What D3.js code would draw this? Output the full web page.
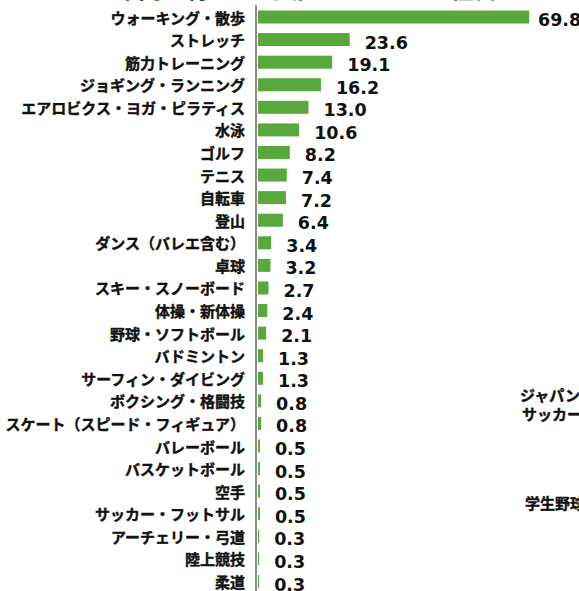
<!DOCTYPE html>
<meta charset="utf-8">
<script src="https://d3js.org/d3.v7.min.js"></script>
<style>
  body { margin: 0; background: white; }
  svg { display: block; }
  .cat { font-family: "Noto Sans CJK JP", sans-serif; font-weight: bold; font-size: 15px; fill: #111; stroke: #111; stroke-width: 0.4px; }
  .val { font-family: "DejaVu Sans", Verdana, sans-serif; font-weight: bold; font-size: 17.5px; fill: #111; }
</style>
<body>
<div id="chart"></div>
<script>
// 種目と実施率（%）
var sports = ["ウォーキング・散歩", "ストレッチ", "筋力トレーニング", "ジョギング・ランニング",
  "エアロビクス・ヨガ・ピラティス", "水泳", "ゴルフ", "テニス", "自転車", "登山",
  "ダンス（バレエ含む）", "卓球", "スキー・スノーボード", "体操・新体操", "野球・ソフトボール",
  "バドミントン", "サーフィン・ダイビング", "ボクシング・格闘技", "スケート（スピード・フィギュア）",
  "バレーボール", "バスケットボール", "空手", "サッカー・フットサル", "アーチェリー・弓道",
  "陸上競技", "柔道"];
var rates = [69.8, 23.6, 19.1, 16.2, 13.0, 10.6, 8.2, 7.4, 7.2, 6.4,
  3.4, 3.2, 2.7, 2.4, 2.1, 1.3, 1.3, 0.8, 0.8,
  0.5, 0.5, 0.5, 0.5, 0.3, 0.3, 0.3];
// 右隣のグラフの見切れたラベル
var sideLabels = ["ジャパン", "サッカーリーグ", "学生野球"];

var W = 579, H = 591;
var data = sports.map(function(d, i) { return {name: d, value: rates[i]}; });

var svg = d3.select("#chart").append("svg")
    .attr("width", W)
    .attr("height", H);

var x = d3.scaleLinear()
    .domain([0, 70])
    .range([258, 530]);

var y = d3.scalePoint()
    .domain(sports)
    .range([17, 581.5]);

var barH = 13;

// 見切れたタイトル
svg.append("text")
    .attr("x", 275)
    .attr("y", -2)
    .attr("text-anchor", "middle")
    .style("font-family", "Noto Sans CJK JP, sans-serif")
    .style("font-weight", "bold")
    .style("font-size", "24px")
    .style("fill", "#1f3a8a")
    .text("この1年間に行った運動・スポーツの種目");

svg.append("g")
  .selectAll("rect")
  .data(data)
  .enter()
  .append("rect")
    .attr("x", x(0))
    .attr("y", function(d) { return y(d.name) - barH / 2; })
    .attr("width", function(d) { return x(d.value) - x(0); })
    .attr("height", barH)
    .style("fill", "#58a83c");

// 縦軸
svg.append("line")
    .attr("x1", 256)
    .attr("x2", 256)
    .attr("y1", 5)
    .attr("y2", H)
    .attr("stroke", "#8c8c8c")
    .attr("stroke-width", 2);

svg.append("g")
  .selectAll("text")
  .data(data)
  .enter()
  .append("text")
    .attr("class", "cat")
    .attr("x", 245)
    .attr("y", function(d) { return y(d.name); })
    .attr("text-anchor", "end")
    .attr("dominant-baseline", "central")
    .text(function(d) { return d.name; });

svg.append("g")
  .selectAll("text")
  .data(data)
  .enter()
  .append("text")
    .attr("class", "val")
    .attr("x", function(d) { return Math.min(x(d.value) + 15, 538); })
    .attr("y", function(d) { return y(d.name) + 3; })
    .attr("dominant-baseline", "central")
    .text(function(d) { return d.value.toFixed(1); });

svg.append("g")
  .selectAll("text")
  .data(sideLabels)
  .enter()
  .append("text")
    .attr("class", "cat")
    .attr("x", function(d, i) { return [520, 522, 525][i]; })
    .attr("y", function(d, i) { return [394, 413, 502][i]; })
    .attr("dominant-baseline", "central")
    .text(function(d) { return d; });
</script>
</body>
